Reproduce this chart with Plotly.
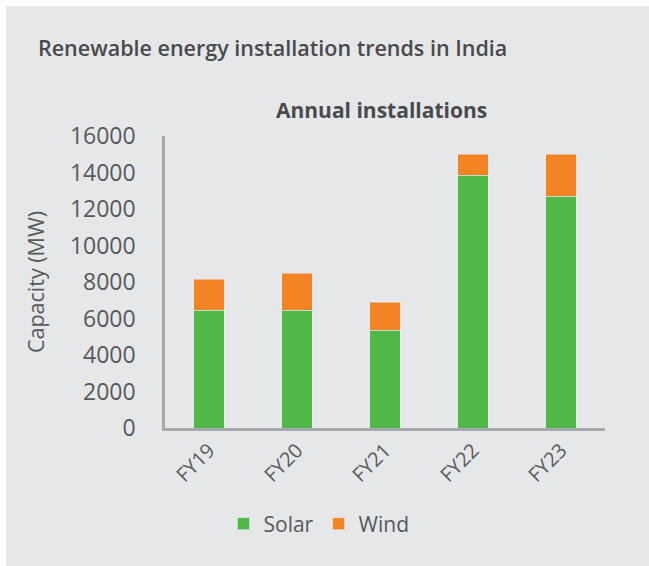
import plotly.graph_objects as go

categories = ["FY19", "FY20", "FY21", "FY22", "FY23"]
solar = [6460, 6460, 5370, 13850, 12710]
wind = [1700, 2020, 1530, 1150, 2290]
y_ticks = [0, 2000, 4000, 6000, 8000, 10000, 12000, 14000, 16000]

BG = "#e6e7e9"
GREEN = "#50b848"
ORANGE = "#f48423"
AXIS = "#a7a9ac"
TXT = "#58595b"
TITLE = "#4a4a4c"
FONT = "Open Sans"

W, H = 649, 566
L, R, T, B = 165, 44, 136, 138
pw, ph = W - L - R, H - T - B

def px(x):
    return (x - L) / pw

def py(y):
    return (H - B - y) / ph

fig = go.Figure()
fig.add_trace(go.Bar(x=categories, y=solar, name="Solar", marker_color=GREEN))
fig.add_trace(go.Bar(x=categories, y=wind, name="Wind", marker_color=ORANGE))

fig.update_layout(
    width=W, height=H,
    barmode="stack",
    bargap=0.648,
    paper_bgcolor=BG,
    plot_bgcolor=BG,
    margin=dict(l=L, r=R, t=T, b=B, autoexpand=False),
    font=dict(family=FONT, color=TXT, size=20),
    title=dict(
        text="Renewable energy installation trends in India",
        x=38 / W, xref="container", xanchor="left",
        y=1 - 48 / H, yref="container", yanchor="middle",
        font=dict(family=FONT, size=21.5, color=TITLE, weight=600),
    ),
    showlegend=True,
    legend=dict(
        orientation="h", x=px(319), xanchor="center", y=py(524), yanchor="middle",
        font=dict(size=21, color=TXT), bgcolor="rgba(0,0,0,0)",
        itemwidth=30, traceorder="normal",
    ),
    xaxis=dict(
        showline=True, linecolor=AXIS, linewidth=2.5, showgrid=False,
        tickangle=-45, tickfont=dict(size=20, color=TXT), ticks="",
    ),
    yaxis=dict(
        range=[0, 16000], tickvals=y_ticks, tickformat="d",
        showline=True, linecolor=AXIS, linewidth=2.5,
        showgrid=False, zeroline=False, tickfont=dict(size=23, color=TXT),
        ticklabelstandoff=22,
        title=dict(text="Capacity (MW)", font=dict(size=21.5, color=TXT), standoff=20),
    ),
)

fig.add_annotation(
    text="<b>Annual installations</b>", xref="paper", yref="paper",
    x=px(381), y=py(110), xanchor="center", yanchor="middle", showarrow=False,
    font=dict(family=FONT, size=21, color=TITLE),
)

# white frame at top and left
fig.add_shape(type="rect", xref="paper", yref="paper", x0=px(-5), x1=px(W + 5), y0=py(6), y1=py(-5),
              fillcolor="white", line_width=0, layer="above")
fig.add_shape(type="rect", xref="paper", yref="paper", x0=px(-5), x1=px(6), y0=py(H + 5), y1=py(-5),
              fillcolor="white", line_width=0, layer="above")

fig.write_html(
    "out.html",
    config={"displayModeBar": False},
    post_script="document.body.style.margin='0';document.body.style.overflow='hidden';"
                "document.documentElement.style.overflow='hidden';"
                "document.body.style.background='" + BG + "';"
                "document.documentElement.style.background='" + BG + "';",
)
